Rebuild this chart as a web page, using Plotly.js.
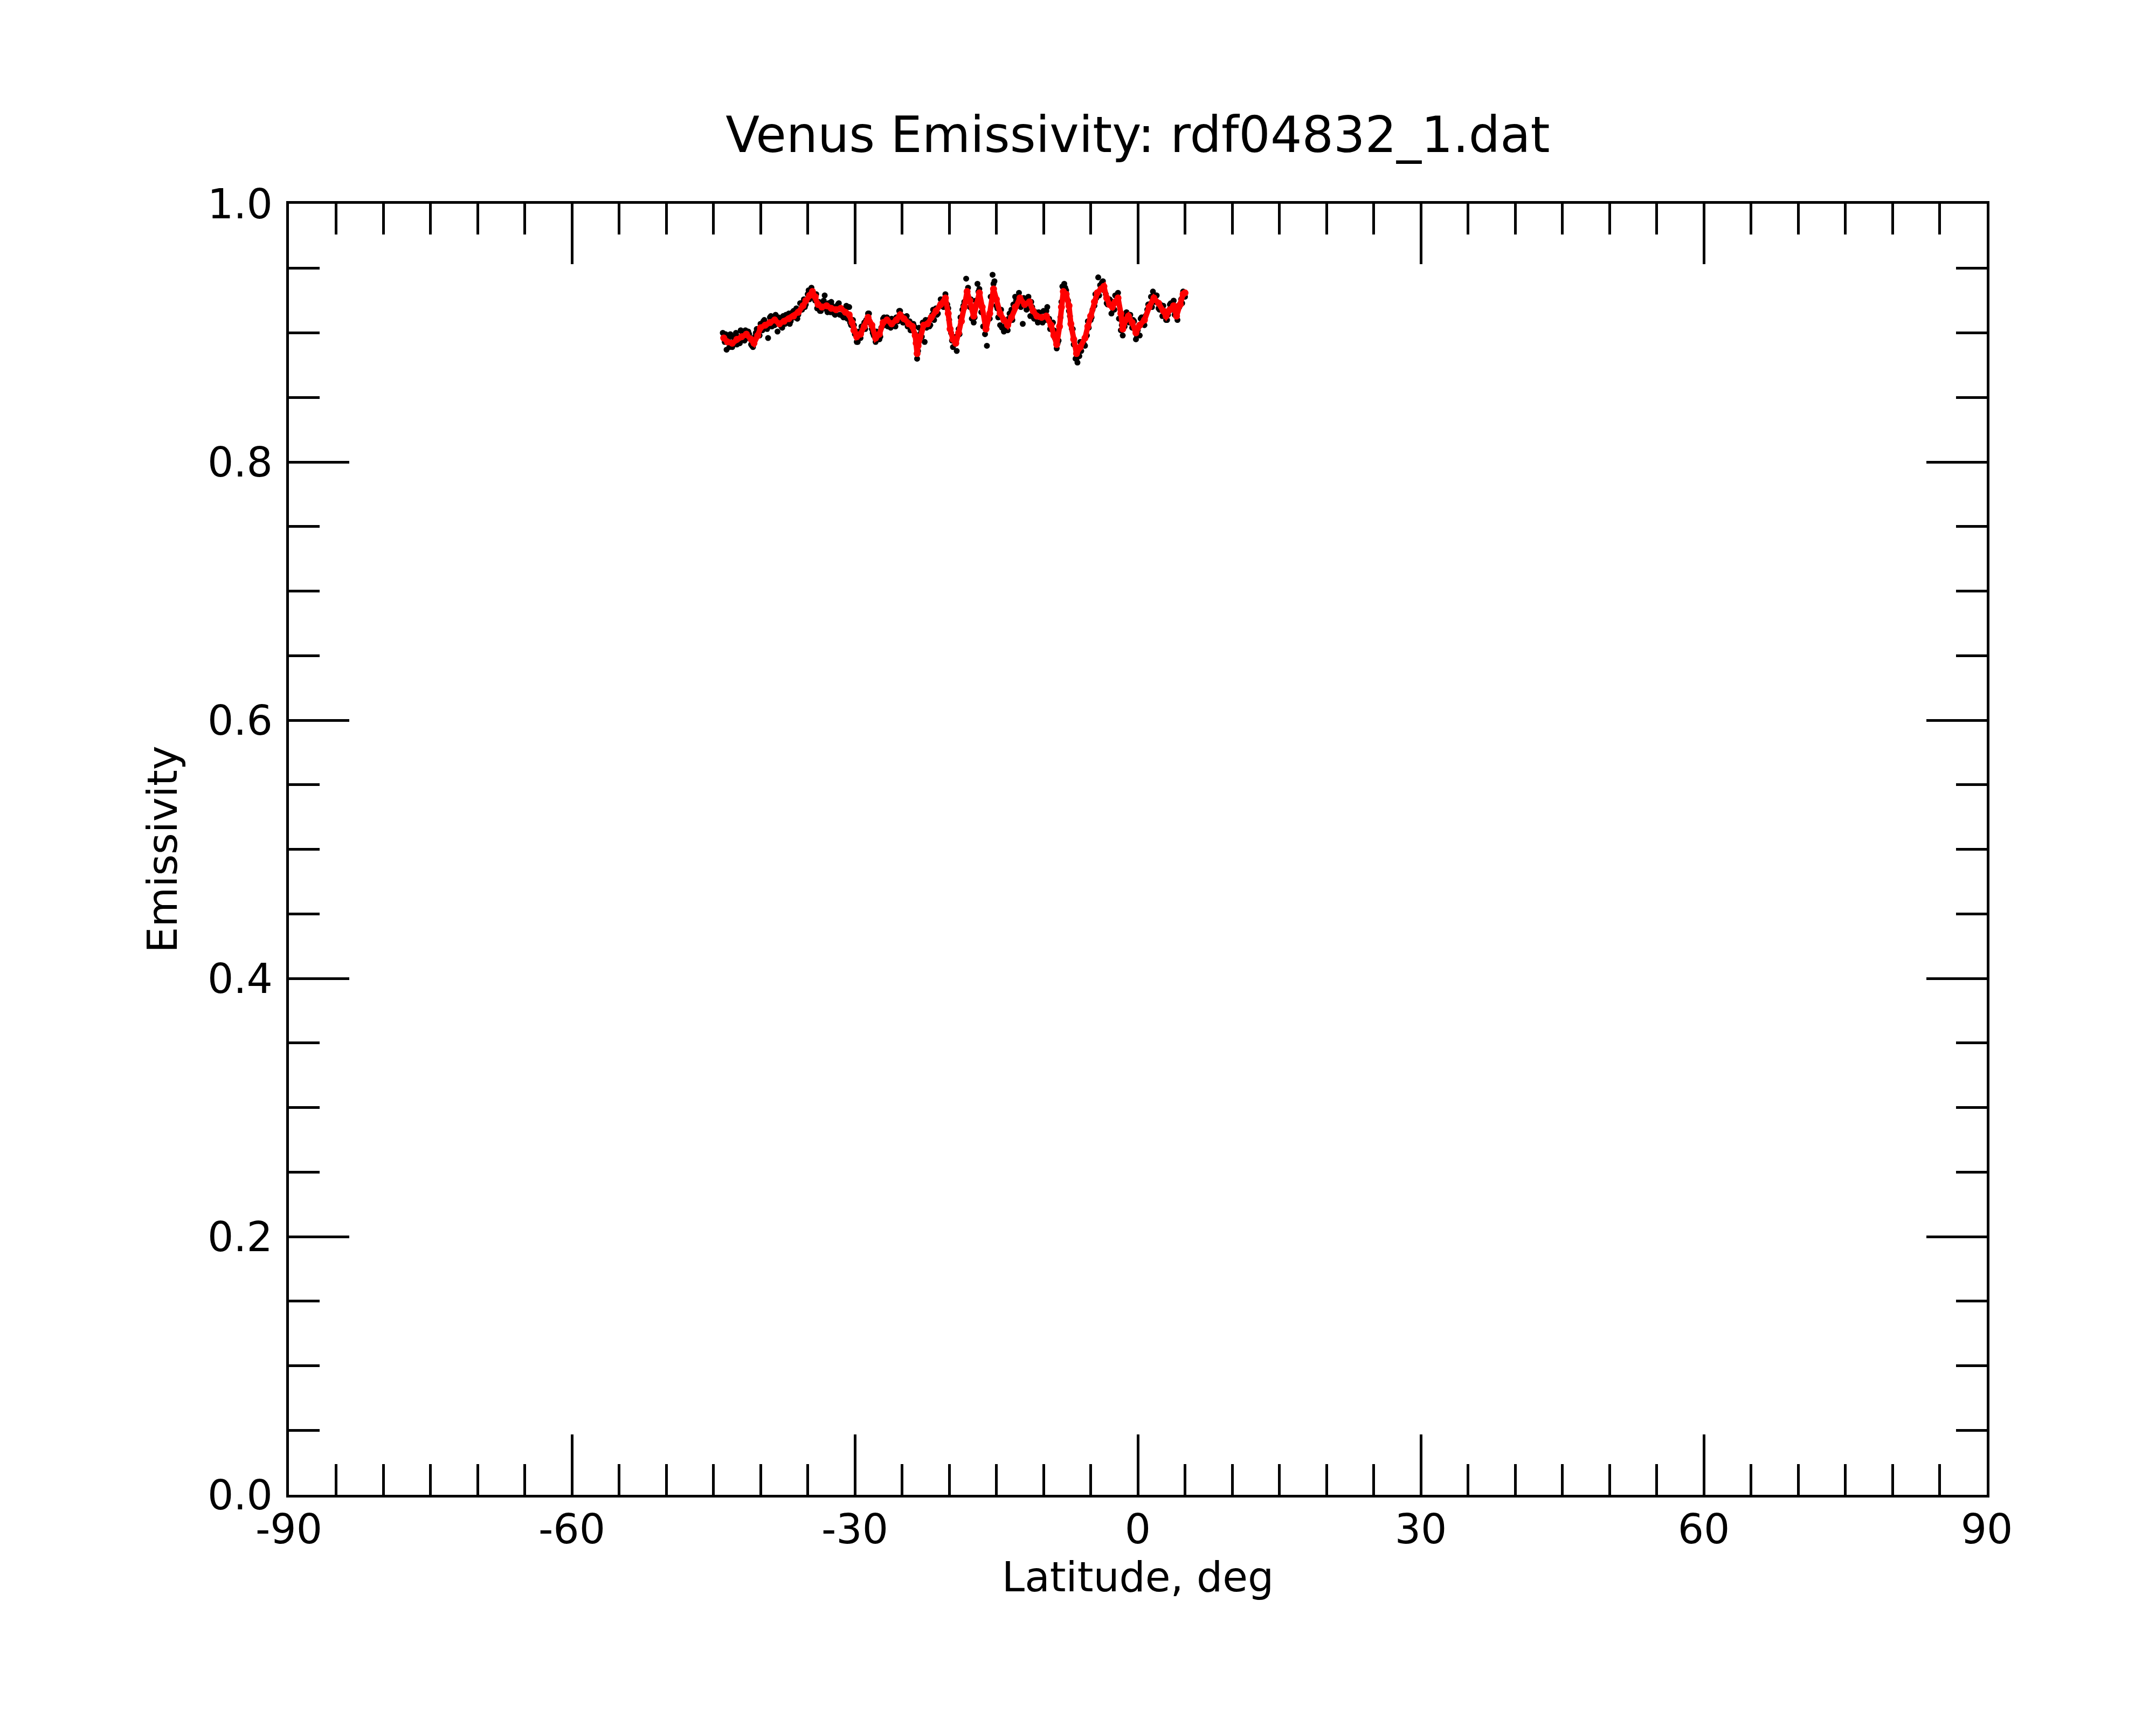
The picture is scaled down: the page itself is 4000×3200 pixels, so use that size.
<!DOCTYPE html>
<html>
<head>
<meta charset="utf-8">
<script src="https://cdn.plot.ly/plotly-3.0.1.min.js"></script>
<style>
  html, body { margin: 0; padding: 0; background: #fff; }
  #plot { width: 4000px; height: 3200px; }
</style>
</head>
<body>
<div id="plot"></div>
<script>
// raw emissivity samples (black dots), first pass
var rawLat = [
  -44.0, -43.8, -43.6, -43.4, -43.2, -43.0, -42.8,
  -42.6, -42.4, -42.2, -42.0, -41.8, -41.6, -41.4, -41.2, -41.0, -40.8,
  -40.6, -40.4, -40.2, -40.0, -39.8, -39.6, -39.4, -39.2, -39.0, -38.8,
  -38.6, -38.4, -38.2, -38.0, -37.8, -37.6, -37.4, -37.2, -37.0, -36.8,
  -36.6, -36.4, -36.2, -36.0, -35.8, -35.6, -35.4, -35.2, -35.0, -34.8,
  -34.6, -34.4, -34.2, -34.0, -33.8, -33.6, -33.4, -33.2, -33.0, -32.8,
  -32.6, -32.4, -32.2, -32.0, -31.8, -31.6, -31.4, -31.2, -31.0, -30.8,
  -30.6, -30.4, -30.2, -30.0, -29.8, -29.6, -29.4, -29.2, -29.0, -28.8,
  -28.6, -28.4, -28.2, -28.0, -27.8, -27.6, -27.4, -27.2, -27.0, -26.8,
  -26.6, -26.4, -26.2, -26.0, -25.8, -25.6, -25.4, -25.2, -25.0, -24.8,
  -24.6, -24.4, -24.2, -24.0, -23.8, -23.6, -23.4, -23.3, -23.2, -23.0,
  -22.8, -22.6, -22.4, -22.2, -22.0, -21.8, -21.6, -21.4, -21.2, -21.0,
  -20.8, -20.6, -20.4, -20.2, -20.0, -19.8, -19.6, -19.4, -19.2, -19.0,
  -18.8, -18.6, -18.4, -18.2, -18.0, -17.8, -17.6, -17.4, -17.2, -17.0,
  -16.8, -16.6, -16.4, -16.2, -16.0, -15.8, -15.6, -15.4, -15.2, -15.0,
  -14.8, -14.6, -14.4, -14.2, -14.0, -13.8, -13.6, -13.4, -13.2, -13.0,
  -12.8, -12.6, -12.4, -12.2, -12.0, -11.8, -11.6, -11.4, -11.2, -11.0,
  -10.8, -10.6, -10.4, -10.2, -10.0, -9.8, -9.6, -9.4, -9.2, -9.0,
  -8.8, -8.6, -8.4, -8.2, -8.0, -7.8, -7.6, -7.4, -7.2, -7.0,
  -6.8, -6.6, -6.4, -6.2, -6.0, -5.8, -5.6, -5.4, -5.2, -5.0,
  -4.8, -4.6, -4.4, -4.2, -4.0, -3.8, -3.6, -3.4, -3.2, -3.0,
  -2.8, -2.6, -2.4, -2.2, -2.0, -1.8, -1.6, -1.4, -1.2, -1.0,
  -0.8, -0.6, -0.4, -0.2, 0.0, 0.2, 0.4, 0.6, 0.8, 1.0,
  1.2, 1.4, 1.6, 1.8, 2.0, 2.2, 2.4, 2.6, 2.8, 3.0,
  3.2, 3.4, 3.6, 3.8, 4.0, 4.2, 4.4, 4.6, 4.8, 5.0
];
var rawEmis = [
  0.900, 0.893, 0.887, 0.896, 0.899, 0.889, 0.894,
  0.900, 0.897, 0.892, 0.901, 0.895, 0.902, 0.896, 0.899, 0.891, 0.889,
  0.897, 0.903, 0.900, 0.907, 0.902, 0.910, 0.904, 0.896, 0.912, 0.905,
  0.909, 0.914, 0.901, 0.910, 0.905, 0.913, 0.907, 0.911, 0.915, 0.909,
  0.916, 0.912, 0.919, 0.914, 0.923, 0.918, 0.926, 0.922, 0.930, 0.926,
  0.935, 0.930, 0.925, 0.919, 0.924, 0.917, 0.922, 0.929, 0.918, 0.923,
  0.916, 0.921, 0.915, 0.920, 0.922, 0.914, 0.919, 0.912, 0.918, 0.911,
  0.920, 0.906, 0.910, 0.899, 0.893, 0.901, 0.896, 0.903, 0.908, 0.910,
  0.915, 0.908, 0.903, 0.898, 0.893, 0.900, 0.895, 0.904, 0.911, 0.906,
  0.912, 0.909, 0.904, 0.910, 0.906, 0.912, 0.909, 0.917, 0.913, 0.908,
  0.912, 0.905, 0.909, 0.902, 0.907, 0.899, 0.880, 0.886, 0.904, 0.900,
  0.908, 0.893, 0.904, 0.910, 0.906, 0.914, 0.910, 0.919, 0.915, 0.921,
  0.924, 0.920, 0.930, 0.922, 0.910, 0.900, 0.889, 0.894, 0.886, 0.903,
  0.912, 0.918, 0.924, 0.942, 0.935, 0.920, 0.911, 0.908, 0.925, 0.938,
  0.934, 0.916, 0.905, 0.899, 0.890, 0.912, 0.928, 0.945, 0.940, 0.921,
  0.912, 0.906, 0.904, 0.901, 0.908, 0.902, 0.915, 0.918, 0.922, 0.928,
  0.924, 0.931, 0.920, 0.907, 0.926, 0.918, 0.928, 0.913, 0.920, 0.911,
  0.916, 0.908, 0.915, 0.910, 0.917, 0.910, 0.920, 0.911, 0.903, 0.908,
  0.896, 0.888, 0.894, 0.912, 0.936, 0.938, 0.933, 0.925, 0.913, 0.903,
  0.891, 0.880, 0.877, 0.882, 0.886, 0.893, 0.890, 0.898, 0.904, 0.910,
  0.918, 0.921, 0.927, 0.943, 0.937, 0.939, 0.933, 0.930, 0.922, 0.926,
  0.915, 0.918, 0.929, 0.925, 0.911, 0.902, 0.898, 0.905, 0.916, 0.910,
  0.914, 0.904, 0.909, 0.895, 0.902, 0.898, 0.912, 0.907, 0.913, 0.918,
  0.922, 0.928, 0.932, 0.924, 0.929, 0.919, 0.922, 0.913, 0.917, 0.910,
  0.914, 0.922, 0.918, 0.925, 0.915, 0.910, 0.920, 0.926, 0.932, 0.928
];

// raw emissivity samples, second pass (interleaved footprints)
var raw2Lat = [
  -43.7, -43.3, -42.9, -42.5, -42.1, -41.7, -41.3, -40.9, -40.5, -40.1,
  -39.7, -39.3, -38.9, -38.5, -38.1, -37.7, -37.3, -36.9, -36.5, -36.1,
  -35.7, -35.3, -34.9, -34.5, -34.1, -33.7, -33.3, -32.9, -32.5, -32.1,
  -31.7, -31.3, -30.9, -30.5, -30.1, -29.7, -29.3, -28.9, -28.5, -28.1,
  -27.7, -27.3, -26.9, -26.5, -26.1, -25.7, -25.3, -24.9, -24.5, -24.1,
  -23.7, -22.9, -22.5, -22.1, -21.7, -21.3, -20.9, -20.5, -20.1, -19.7,
  -19.3, -18.9, -18.5, -18.1, -17.7, -17.3, -16.9, -16.5, -16.1, -15.7,
  -15.3, -14.9, -14.5, -14.1, -13.7, -13.3, -12.9, -12.5, -12.1, -11.7,
  -11.3, -10.9, -10.5, -10.1, -9.7, -9.3, -8.9, -8.5, -8.1, -7.7,
  -7.3, -6.9, -6.5, -6.1, -5.7, -5.3, -4.9, -4.5, -4.1, -3.7,
  -3.3, -2.9, -2.5, -2.1, -1.7, -1.3, -0.9, -0.5, -0.1, 0.3,
  0.7, 1.1, 1.5, 1.9, 2.3, 2.7, 3.1, 3.5, 3.9, 4.3,
  4.7
];
var raw2Emis = [
  0.899, 0.889, 0.897, 0.891, 0.902, 0.894, 0.901, 0.890, 0.900, 0.898,
  0.909, 0.903, 0.913, 0.906, 0.912, 0.904, 0.914, 0.907, 0.917, 0.911,
  0.923, 0.920, 0.933, 0.928, 0.930, 0.917, 0.925, 0.916, 0.924, 0.914,
  0.923, 0.913, 0.921, 0.908, 0.906, 0.893, 0.905, 0.903, 0.915, 0.900,
  0.901, 0.897, 0.912, 0.905, 0.911, 0.905, 0.917, 0.908, 0.913, 0.902,
  0.905, 0.897, 0.910, 0.905, 0.918, 0.914, 0.926, 0.922, 0.919, 0.894,
  0.897, 0.899, 0.921, 0.928, 0.926, 0.912, 0.932, 0.916, 0.907, 0.911,
  0.938, 0.919, 0.918, 0.905, 0.911, 0.910, 0.925, 0.923, 0.927, 0.919,
  0.924, 0.911, 0.916, 0.908, 0.917, 0.903, 0.902, 0.892, 0.924, 0.935,
  0.917, 0.903, 0.880, 0.893, 0.891, 0.909, 0.912, 0.930, 0.929, 0.940,
  0.923, 0.925, 0.918, 0.931, 0.906, 0.914, 0.908, 0.910, 0.898, 0.911,
  0.906, 0.922, 0.920, 0.929, 0.918, 0.921, 0.910, 0.923, 0.914, 0.921,
  0.923
];

// smoothed emissivity (red)
var smLat = [
  -43.9, -43.5, -43.0, -42.5, -42.0, -41.5, -41.0, -40.7, -40.3,
  -40.0, -39.5, -39.0, -38.5, -38.0, -37.5, -37.0, -36.5, -36.0, -35.5,
  -35.2, -34.8, -34.5, -34.2, -33.9, -33.5, -33.0, -32.5, -32.0, -31.5,
  -31.0, -30.6, -30.3, -30.1, -29.8, -29.4, -29.0, -28.6, -28.2, -27.8,
  -27.4, -27.0, -26.6, -26.1, -25.6, -25.2, -24.8, -24.3, -23.9, -23.6,
  -23.5, -23.4, -23.3, -23.1, -22.7, -22.3, -21.9, -21.4, -20.9, -20.4,
  -20.1, -19.9, -19.6, -19.3, -19.0, -18.7, -18.4, -18.1, -17.8, -17.4,
  -17.1, -16.8, -16.5, -16.1, -15.7, -15.3, -15.0, -14.6, -14.2, -13.8,
  -13.4, -13.0, -12.5, -12.0, -11.5, -11.1, -10.7, -10.2, -9.7, -9.2,
  -8.9, -8.6, -8.3, -8.1, -7.9, -7.6, -7.3, -7.1, -6.8, -6.5,
  -6.1, -5.6, -5.3, -5.0, -4.6, -4.3, -3.9, -3.6, -3.3, -3.0,
  -2.7, -2.4, -2.1, -1.8, -1.6, -1.3, -1.0, -0.6, -0.2, 0.2,
  0.7, 1.2, 1.7, 2.2, 2.7, 3.0, 3.4, 3.8, 4.1, 4.5,
  4.8, 5.0
];
var smEmis = [
  0.896, 0.893, 0.892, 0.895, 0.897, 0.899, 0.895, 0.892, 0.898,
  0.904, 0.906, 0.908, 0.910, 0.907, 0.909, 0.911, 0.913, 0.916, 0.921,
  0.925, 0.929, 0.932, 0.928, 0.922, 0.920, 0.921, 0.919, 0.918, 0.919,
  0.916, 0.914, 0.908, 0.902, 0.897, 0.899, 0.905, 0.912, 0.906, 0.896,
  0.899, 0.908, 0.910, 0.907, 0.910, 0.914, 0.911, 0.907, 0.905, 0.898,
  0.892, 0.884, 0.890, 0.897, 0.906, 0.907, 0.912, 0.917, 0.922, 0.927,
  0.915, 0.903, 0.895, 0.892, 0.900, 0.909, 0.920, 0.932, 0.925, 0.913,
  0.922, 0.931, 0.920, 0.903, 0.915, 0.934, 0.926, 0.915, 0.910, 0.906,
  0.912, 0.920, 0.927, 0.922, 0.924, 0.917, 0.913, 0.912, 0.913, 0.906,
  0.898, 0.891, 0.905, 0.920, 0.932, 0.930, 0.921, 0.907, 0.895, 0.884,
  0.889, 0.896, 0.905, 0.913, 0.924, 0.931, 0.934, 0.936, 0.927, 0.922,
  0.920, 0.924, 0.927, 0.915, 0.903, 0.910, 0.913, 0.908, 0.900, 0.906,
  0.910, 0.920, 0.927, 0.923, 0.917, 0.913, 0.918, 0.921, 0.913, 0.922,
  0.930, 0.931
];

var xTicks = [-90, -60, -30, 0, 30, 60, 90];
var xTickText = ['-90', '-60', '-30', '0', '30', '60', '90'];
var yTicks = [0, 0.2, 0.4, 0.6, 0.8, 1.0];
var yTickText = ['0.0', '0.2', '0.4', '0.6', '0.8', '1.0'];

var font = 'DejaVu Sans';

function rawTrace(x, y) {
  return {
    x: x, y: y,
    type: 'scatter', mode: 'markers',
    marker: {color: 'black', size: 11},
    hoverinfo: 'none', showlegend: false
  };
}

var smooth = {
  x: smLat, y: smEmis,
  type: 'scatter', mode: 'lines+markers',
  line: {color: '#ff0000', width: 10},
  marker: {color: '#ff0000', size: 13},
  hoverinfo: 'none', showlegend: false
};

function axisStyle(tv, tt, minorStep, tick0) {
  return {
    tickmode: 'array', tickvals: tv, ticktext: tt,
    ticks: 'inside', ticklen: 112, tickwidth: 5, tickcolor: 'black',
    showline: true, linewidth: 5, linecolor: 'black', mirror: 'ticks',
    showgrid: false, zeroline: false,
    tickfont: {family: font, size: 76, color: 'black'},
    minor: {tickmode: 'linear', tick0: tick0, dtick: minorStep,
            ticks: 'inside', ticklen: 57, tickwidth: 5, tickcolor: 'black',
            showgrid: false}
  };
}

var xaxis = axisStyle(xTicks, xTickText, 5, -90);
xaxis.range = [-90, 90];
xaxis.ticklabelstandoff = -6;
xaxis.title = {text: 'Latitude, deg', font: {family: font, size: 76, color: 'black'}, standoff: 0};

var yaxis = axisStyle(yTicks, yTickText, 0.05, 0);
yaxis.range = [0, 1];
yaxis.ticklabelstandoff = 10;
yaxis.title = {text: 'Emissivity', font: {family: font, size: 76, color: 'black'}, standoff: 33};

var layout = {
  width: 4000, height: 3200,
  margin: {l: 536, r: 314, t: 378, b: 427},
  paper_bgcolor: 'white', plot_bgcolor: 'white',
  title: {text: 'Venus Emissivity: rdf04832_1.dat',
          font: {family: font, size: 92, color: 'black'},
          x: 0.5, xref: 'paper', y: 1 - 250 / 3200, yref: 'container', yanchor: 'middle'},
  xaxis: xaxis,
  yaxis: yaxis
};

Plotly.newPlot('plot', [rawTrace(rawLat, rawEmis), rawTrace(raw2Lat, raw2Emis), smooth],
  layout, {staticPlot: true});
</script>
</body>
</html>
